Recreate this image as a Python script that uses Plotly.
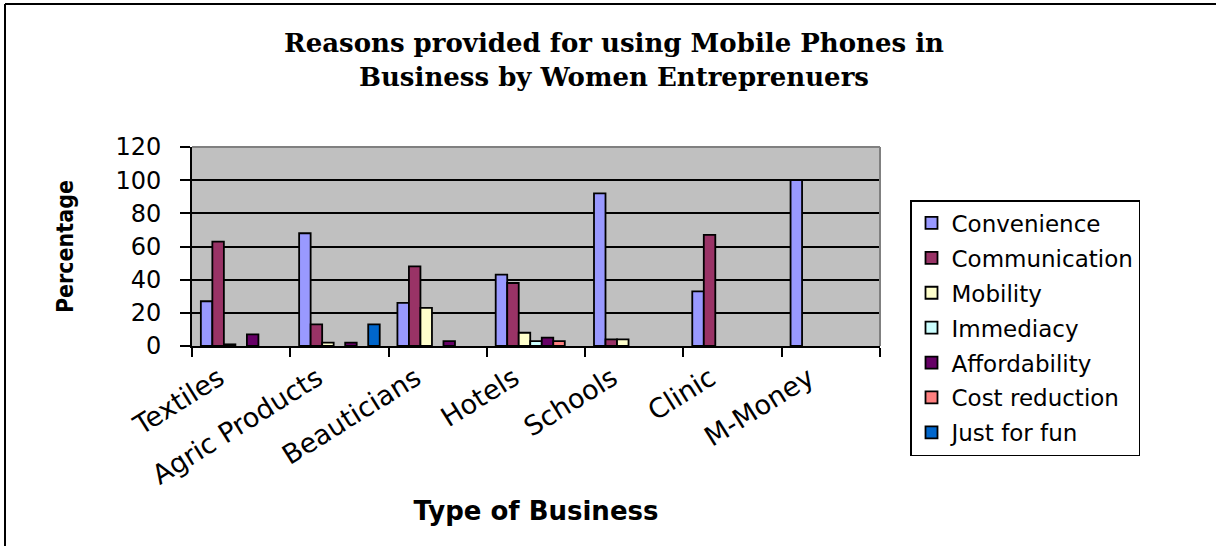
import plotly.graph_objects as go

categories = ["Textiles", "Agric Products", "Beauticians", "Hotels", "Schools", "Clinic", "M-Money"]
series_names = ["Convenience", "Communication", "Mobility", "Immediacy", "Affordability", "Cost reduction", "Just for fun"]
convenience = [27, 68, 26, 43, 92, 33, 100]
communication = [63, 13, 48, 38, 4, 67, 0]
mobility = [1, 2, 23, 8, 4, 0, 0]
immediacy = [0, 0, 0, 3, 0, 0, 0]
affordability = [7, 2, 3, 5, 0, 0, 0]
cost_reduction = [0, 0, 0, 3, 0, 0, 0]
just_for_fun = [0, 13, 0, 0, 0, 0, 0]
series_values = [convenience, communication, mobility, immediacy, affordability, cost_reduction, just_for_fun]
colors = ["#9999FF", "#993366", "#FFFFCC", "#CCFFFF", "#660066", "#FF8080", "#0066CC"]
y_ticks = [0, 20, 40, 60, 80, 100, 120]

W, H = 1216, 546
L, R, T, B = 192, 880, 147, 346

fig = go.Figure()
for i, (name, vals) in enumerate(zip(series_names, series_values)):
    fig.add_trace(go.Bar(
        name=name, x=categories, y=[v if v else None for v in vals],
        marker=dict(color=colors[i], line=dict(color="black", width=1.8)),
        legendgroup=name,
    ))

def px_x(p):
    return (p - L) / (R - L)

def px_y(p):
    return (B - p) / (B - T)

sans = "DejaVu Sans, Arial, sans-serif"
fig.update_layout(
    width=W, height=H,
    margin=dict(l=L, r=W - R, t=T, b=H - B, autoexpand=False),
    paper_bgcolor="white", plot_bgcolor="#C0C0C0",
    barmode="group", bargap=0.18, bargroupgap=0,
    font=dict(family=sans, color="black"),
    title=dict(
        text="Reasons provided for using Mobile Phones in<br>Business by Women Entreprenuers",
        font=dict(family="DejaVu Serif, Liberation Serif, serif", size=26, color="black", weight="bold"),
        x=614 / W, xanchor="center", xref="container",
        y=1 - 52 / H, yanchor="middle", yref="container",
    ),
    legend=dict(
        x=px_x(910), y=px_y(200), xanchor="left", yanchor="top",
        bgcolor="white", bordercolor="black", borderwidth=1.5,
        font=dict(family=sans, size=23, color="black"),
        traceorder="grouped", tracegroupgap=2, maxheight=400,
    ),
    xaxis=dict(
        tickson="boundaries", ticks="outside", ticklen=9, tickwidth=2, tickcolor="black",
        showline=True, linecolor="black", linewidth=2,
        tickangle=-32, tickfont=dict(family=sans, size=27, color="black"),
        ticklabelshift=-22, ticklabelstandoff=4,
        title=dict(text="<b>Type of Business</b>", font=dict(family=sans, size=26, color="black"), standoff=12),
        showgrid=False,
    ),
    yaxis=dict(
        range=[0, 120], tickvals=y_ticks, ticks="outside", ticklen=10, tickwidth=2, tickcolor="black",
        showline=True, linecolor="black", linewidth=2,
        showgrid=True, gridcolor="black", gridwidth=1.5,
        tickfont=dict(family=sans, size=24, color="black"), ticklabelstandoff=14,
        zeroline=False,
        title=dict(text="Percentage", font=dict(family="DejaVu Sans Condensed, Liberation Sans Narrow, sans-serif", size=23, color="black", weight="bold"), standoff=35),
    ),
)

# grey top/right frame of the plot area
fig.add_shape(type="line", xref="paper", yref="paper", x0=0, y0=1, x1=1, y1=1,
              line=dict(color="#808080", width=2), layer="above")
fig.add_shape(type="line", xref="paper", yref="paper", x0=1, y0=0, x1=1, y1=1,
              line=dict(color="#808080", width=2), layer="above")
# outer chart border (left and top edges visible)
fig.add_shape(type="line", xref="paper", yref="paper", x0=px_x(5), y0=px_y(4), x1=px_x(5), y1=px_y(560),
              line=dict(color="black", width=2))
fig.add_shape(type="line", xref="paper", yref="paper", x0=px_x(5), y0=px_y(4), x1=px_x(1230), y1=px_y(4),
              line=dict(color="black", width=2))

fig.write_html("out.html")
